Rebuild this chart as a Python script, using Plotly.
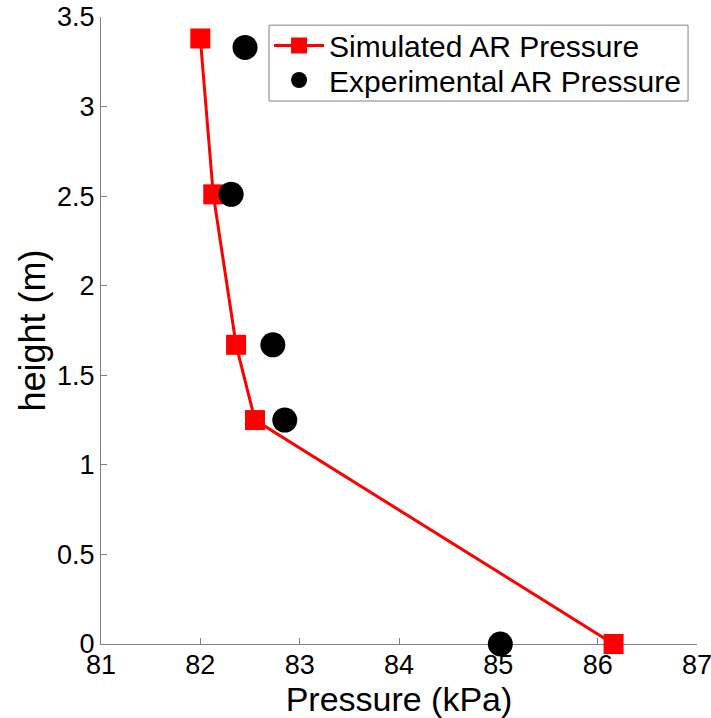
import plotly.graph_objects as go

sim_pressure = [82.0, 82.13, 82.36, 82.55, 86.16]
sim_height = [3.38, 2.51, 1.67, 1.25, 0.0]
exp_pressure = [82.45, 82.31, 82.73, 82.85, 85.02]
exp_height = [3.33, 2.51, 1.67, 1.25, 0.0]

fig = go.Figure()
fig.add_trace(go.Scatter(
    x=sim_pressure, y=sim_height, mode="lines+markers",
    name="Simulated AR Pressure",
    line=dict(color="#ff0000", width=3),
    marker=dict(symbol="square", size=20, color="#ff0000"),
    cliponaxis=False, legend="legend",
))
fig.add_trace(go.Scatter(
    x=exp_pressure, y=exp_height, mode="markers",
    name="Experimental AR Pressure",
    marker=dict(symbol="circle", size=25, color="#000000"),
    cliponaxis=False, legend="legend2",
))

font_family = "Liberation Sans, Arial, sans-serif"
legend_common = dict(
    x=0.282, xanchor="left", yanchor="top",
    borderwidth=0, bgcolor="rgba(0,0,0,0)",
    font=dict(size=30, family=font_family),
    itemwidth=50,
)
fig.update_layout(
    width=711, height=718,
    margin=dict(l=101, r=14, t=17, b=74),
    paper_bgcolor="white", plot_bgcolor="white",
    font=dict(family=font_family, color="black", size=27),
    showlegend=True,
    legend=dict(y=0.996, **legend_common),
    legend2=dict(y=0.941, **legend_common),
    shapes=[dict(
        type="rect", xref="paper", yref="paper",
        x0=0.2819, x1=0.985, y0=0.866, y1=0.987,
        line=dict(color="#808080", width=1), fillcolor="white",
        layer="below",
    )],
    xaxis=dict(
        range=[81, 87], tickvals=[81, 82, 83, 84, 85, 86, 87],
        showgrid=False, zeroline=False, automargin=False,
        showline=True, linecolor="#808080", linewidth=1,
        ticks="inside", ticklen=6, tickcolor="#808080",
        tickfont=dict(size=27), layer="below traces",
        ticklabeloverflow="allow", ticklabelstandoff=-3,
        title=dict(text="Pressure (kPa)", font=dict(size=34), standoff=0),
    ),
    yaxis=dict(
        range=[0, 3.5], tickvals=[0, 0.5, 1, 1.5, 2, 2.5, 3, 3.5],
        ticktext=["0", "0.5", "1", "1.5", "2", "2.5", "3", "3.5"],
        showgrid=False, zeroline=False, automargin=False,
        showline=True, linecolor="#808080", linewidth=1,
        ticks="inside", ticklen=6, tickcolor="#808080",
        tickfont=dict(size=27), layer="below traces",
        ticklabeloverflow="allow",
        title=dict(text="height (m)", font=dict(size=36), standoff=0),
    ),
)

fig.write_html("out.html")
